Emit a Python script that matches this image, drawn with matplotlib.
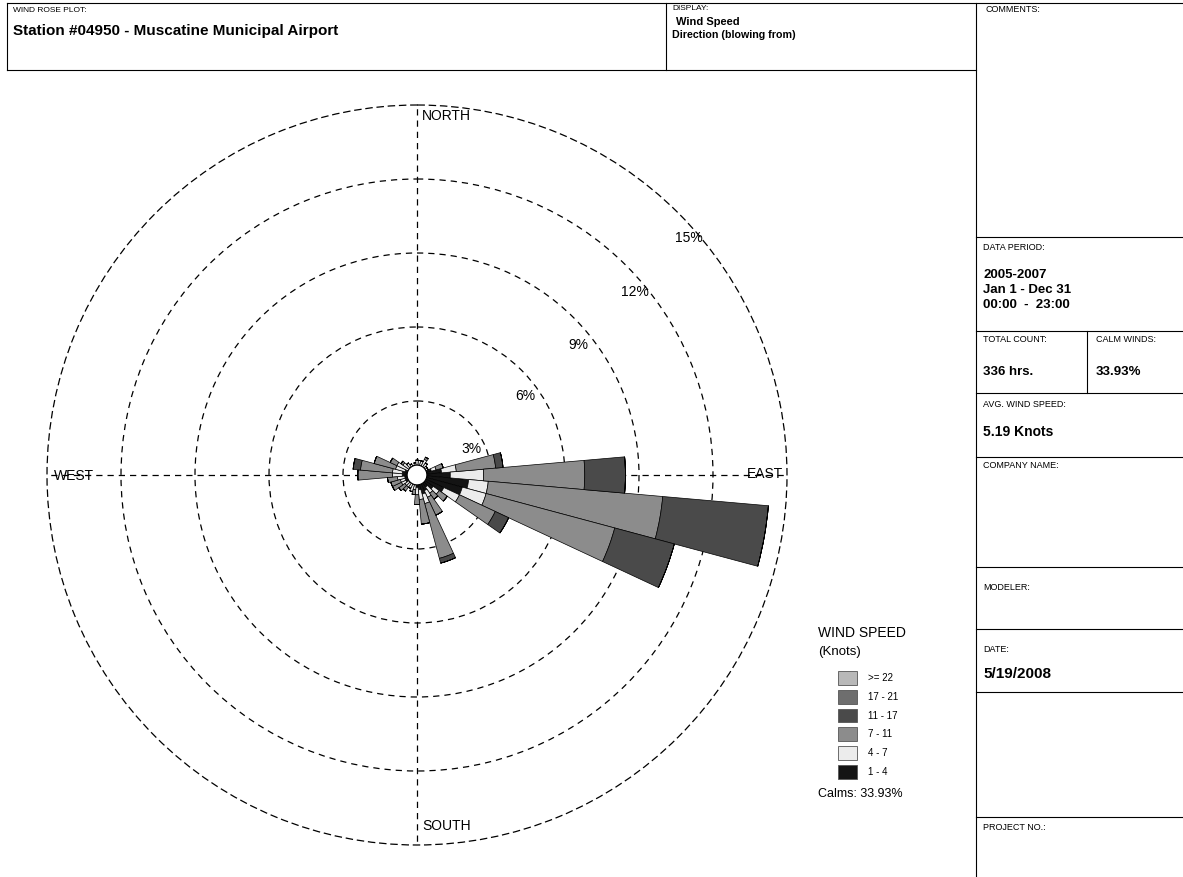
import numpy as np
import matplotlib
matplotlib.use("Agg")
import matplotlib.pyplot as plt
from matplotlib.patches import Patch, Circle
from matplotlib.lines import Line2D

plt.rcParams['font.family'] = ['Liberation Sans', 'DejaVu Sans']

# wind directions (blowing from), degrees
directions = [10, 20, 30, 40, 50, 60, 70, 80, 90, 100, 110, 120,
              130, 140, 150, 160, 170, 180, 190, 200, 210, 220, 230, 240,
              250, 260, 270, 280, 290, 300, 310, 320, 330, 340, 350, 360]

# frequency (%) per speed class
spd_1_4 = [0.4, 0.4, 0.4, 0.4, 0.3, 0.4, 0.6, 1.0, 1.35, 2.1, 1.9, 1.2,
           0.8, 0.6, 0.7, 0.8, 0.6, 0.5, 0.4, 0.4, 0.3, 0.4, 0.4, 0.5,
           0.5, 0.5, 0.6, 0.6, 0.5, 0.4, 0.4, 0.4, 0.3, 0.3, 0.3, 0.4]
spd_4_7 = [0.2, 0.2, 0.3, 0.2, 0.2, 0.1, 0.2, 0.6, 1.35, 0.8, 1.0, 0.7,
           0.3, 0.3, 0.3, 0.4, 0.4, 0.3, 0.2, 0.3, 0.3, 0.2, 0.2, 0.2,
           0.2, 0.3, 0.4, 0.4, 0.4, 0.5, 0.3, 0.2, 0.2, 0.1, 0.2, 0.2]
spd_7_11 = [0.0, 0.0, 0.1, 0.0, 0.0, 0.0, 0.3, 1.6, 4.1, 7.1, 5.4, 1.6,
            0.4, 0.3, 0.8, 2.3, 1.0, 0.4, 0.2, 0.0, 0.0, 0.2, 0.3, 0.4,
            0.4, 0.4, 1.4, 1.3, 0.9, 0.3, 0.1, 0.0, 0.0, 0.0, 0.0, 0.0]
spd_11_17 = [0.0, 0.0, 0.0, 0.0, 0.0, 0.0, 0.0, 0.3, 1.65, 4.3, 2.5, 0.6,
             0.0, 0.0, 0.0, 0.2, 0.0, 0.0, 0.0, 0.0, 0.0, 0.0, 0.0, 0.0,
             0.0, 0.0, 0.0, 0.3, 0.0, 0.0, 0.0, 0.0, 0.0, 0.0, 0.0, 0.0]
spd_17_21 = [0.0] * 36
spd_22 = [0.0] * 36

classes = [spd_1_4, spd_4_7, spd_7_11, spd_11_17, spd_17_21, spd_22]
class_labels = ['1 - 4', '4 - 7', '7 - 11', '11 - 17', '17 - 21', '>= 22']
class_colors = ['#141414', '#ececec', '#8c8c8c', '#4a4a4a', '#6e6e6e', '#b8b8b8']

ring_values = [3, 6, 9, 12, 15]
calm_pct = 33.93

W, H = 1183, 877
dash = (0, (5, 4))


def fx(x):
    return x / W


def fy(y):
    return 1 - y / H


fig = plt.figure(figsize=(W / 100, H / 100), dpi=100)
fig.patch.set_facecolor('white')

# rose
ax = fig.add_axes([fx(47), fy(845), 740 / W, 740 / H], projection='polar')
ax.set_theta_zero_location('N')
ax.set_theta_direction(-1)
ax.set_ylim(0, ring_values[-1])
ax.set_rgrids(ring_values[:-1], labels=[''] * (len(ring_values) - 1))
ax.set_thetagrids([0, 90, 180, 270], labels=[''] * 4)
ax.grid(True, color='black', linestyle=dash, linewidth=0.9)
ax.spines['polar'].set_linestyle(dash)
ax.spines['polar'].set_linewidth(0.9)
ax.tick_params(length=0)
ax.set_axisbelow(True)

theta = np.deg2rad(directions)
bottom = np.zeros(len(directions))
for vals, col in zip(classes, class_colors):
    vals = np.array(vals)
    ax.bar(theta, vals, width=np.deg2rad(10), bottom=bottom, color=col,
           edgecolor='black', linewidth=0.5, zorder=3)
    bottom += vals

# calm circle
ax.add_patch(Circle((0.5, 0.5), 0.4 / 15 / 2, transform=ax.transAxes,
                    facecolor='white', edgecolor='black', linewidth=0.8, zorder=5))

# ring labels
ring_pos = [(471, 449), (525, 396), (578, 345), (635, 292), (689, 238)]
for v, (x, y) in zip(ring_values, ring_pos):
    fig.text(fx(x), fy(y), f'{v}%', ha='center', va='center', fontsize=10)

fig.text(fx(422), fy(116), 'NORTH', ha='left', va='center', fontsize=10)
fig.text(fx(422), fy(826), 'SOUTH', ha='left', va='center', fontsize=10)
fig.text(fx(54), fy(476), 'WEST', ha='left', va='center', fontsize=10)
fig.text(fx(783), fy(474), 'EAST', ha='right', va='center', fontsize=10)

# legend
handles = [Patch(facecolor=c, edgecolor='#555555', linewidth=0.6)
           for c in class_colors[::-1]]
leg = fig.legend(handles, class_labels[::-1], loc='upper left',
                 bbox_to_anchor=(fx(838), fy(671)), frameon=False, fontsize=7,
                 handlelength=2.0, handleheight=1.8, labelspacing=0.52,
                 handletextpad=1.1, borderpad=0, borderaxespad=0)
fig.text(fx(818), fy(633), 'WIND SPEED', ha='left', va='center', fontsize=10)
fig.text(fx(818), fy(652), '(Knots)', ha='left', va='center', fontsize=9.5)
fig.text(fx(818), fy(794), f'Calms: {calm_pct:.2f}%', ha='left', va='center', fontsize=9)

# frame lines
def hline(y, x0, x1):
    fig.add_artist(Line2D([fx(x0), fx(x1)], [fy(y), fy(y)], color='black', lw=0.8))


def vline(x, y0, y1):
    fig.add_artist(Line2D([fx(x), fx(x)], [fy(y0), fy(y1)], color='black', lw=0.8))


hline(3, 7, W)
hline(70, 7, 976)
vline(7, 3, 70)
vline(666, 3, 70)
vline(976, 3, H)
for y in [237, 331, 393, 457, 567, 629, 692, 817]:
    hline(y, 976, W)
vline(1087, 331, 393)

# header text
fig.text(fx(13), fy(10), 'WIND ROSE PLOT:', fontsize=6, va='center')
fig.text(fx(13), fy(31), 'Station #04950 - Muscatine Municipal Airport',
         fontsize=11, fontweight='bold', va='center')
fig.text(fx(672), fy(8), 'DISPLAY:', fontsize=6, va='center')
fig.text(fx(676), fy(22), 'Wind Speed', fontsize=8, fontweight='bold', va='center')
fig.text(fx(672), fy(35), 'Direction (blowing from)', fontsize=7.7, fontweight='bold', va='center')

# side panel text
small = [('COMMENTS:', 985, 10), ('DATA PERIOD:', 983, 248),
         ('TOTAL COUNT:', 983, 340), ('CALM WINDS:', 1096, 340),
         ('AVG. WIND SPEED:', 983, 405), ('COMPANY NAME:', 983, 466),
         ('MODELER:', 983, 588), ('DATE:', 983, 650), ('PROJECT NO.:', 983, 828)]
for s, x, y in small:
    fig.text(fx(x), fy(y), s, fontsize=6.5, va='center')

bold = [('2005-2007', 983, 275, 9.5), ('Jan 1 - Dec 31', 983, 290, 9.5),
        ('00:00  -  23:00', 983, 305, 9.5), ('336 hrs.', 983, 372, 9.5),
        (f'{calm_pct:.2f}%', 1096, 372, 9.5), ('5.19 Knots', 983, 432, 10),
        ('5/19/2008', 983, 674, 11)]
for s, x, y, fs in bold:
    fig.text(fx(x), fy(y), s, fontsize=fs, fontweight='bold', va='center')

fig.savefig('out.png', dpi=100)
